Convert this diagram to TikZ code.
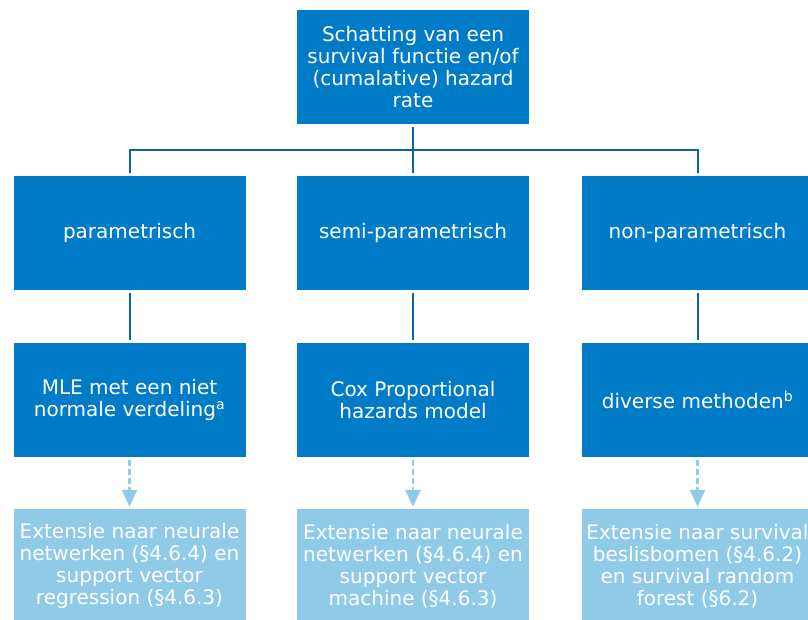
\documentclass[tikz,border=0pt]{standalone}
\usepackage{fontspec}
\setmainfont{DejaVu Sans}
\usetikzlibrary{arrows.meta}
\definecolor{boxblue}{HTML}{007BC7}
\definecolor{lineblue}{HTML}{0B62A4}
\definecolor{lightblue}{HTML}{8FCAE7}
\tikzset{
  darkbox/.style={fill=boxblue, text=white, minimum width=232pt, minimum height=114pt,
    inner sep=0pt, align=center, font=\fontsize{20}{22}\selectfont},
  lightbox/.style={darkbox, fill=lightblue},
  conn/.style={draw=lineblue, line width=2pt},
  ext/.style={draw=lightblue, line width=2.5pt, dash pattern=on 5.5pt off 3.5pt,
    -{Triangle[width=15pt,length=17pt,fill=lightblue]}, shorten <=3pt, shorten >=2pt}
}
\begin{document}
\begin{tikzpicture}[x=1pt,y=-1pt]
\useasboundingbox (0,0) rectangle (808,619);
\begin{scope}
\clip (0,0) rectangle (808,619);
\node[darkbox] (top) at (413,67) {Schatting van een\\survival functie en/of\\(cumalative) hazard\\rate};
\node[darkbox] (p) at (129.5,233) {parametrisch};
\node[darkbox] (s) at (413,233) {semi-parametrisch};
\node[darkbox] (n) at (697.5,233) {non-parametrisch};
\node[darkbox] (p2) at (129.5,400) {MLE met een niet\\normale verdeling\textsuperscript{a}};
\node[darkbox] (s2) at (413,400) {Cox Proportional\\hazards model};
\node[darkbox] (n2) at (697.5,400) {diverse methoden\textsuperscript{b}};
\node[lightbox] (p3) at (129.5,566) {Extensie naar neurale\\netwerken (§4.6.4) en\\support vector\\regression (§4.6.3)};
\node[lightbox] (s3) at (413,566) {Extensie naar neurale\\netwerken (§4.6.4) en\\support vector\\machine (§4.6.3)};
\node[lightbox] (n3) at (697.5,566) {Extensie naar survival\\beslisbomen (§4.6.2)\\en survival random\\forest (§6.2)};
\coordinate (hub) at (413,150);
\draw[conn, shorten <=3pt] (top.south) -- (hub);
\draw[conn, shorten >=3pt] (hub) -- (s.north);
\draw[conn, shorten >=3pt] (hub) -| (p.north);
\draw[conn, shorten >=3pt] (hub) -| (n.north);
\draw[conn, shorten <=3pt, shorten >=3pt] (p) -- (p2);
\draw[conn, shorten <=3pt, shorten >=3pt] (s) -- (s2);
\draw[conn, shorten <=3pt, shorten >=3pt] (n) -- (n2);
\draw[ext] (p2) -- (p3);
\draw[ext] (s2) -- (s3);
\draw[ext] (n2) -- (n3);
\end{scope}
\end{tikzpicture}
\end{document}
